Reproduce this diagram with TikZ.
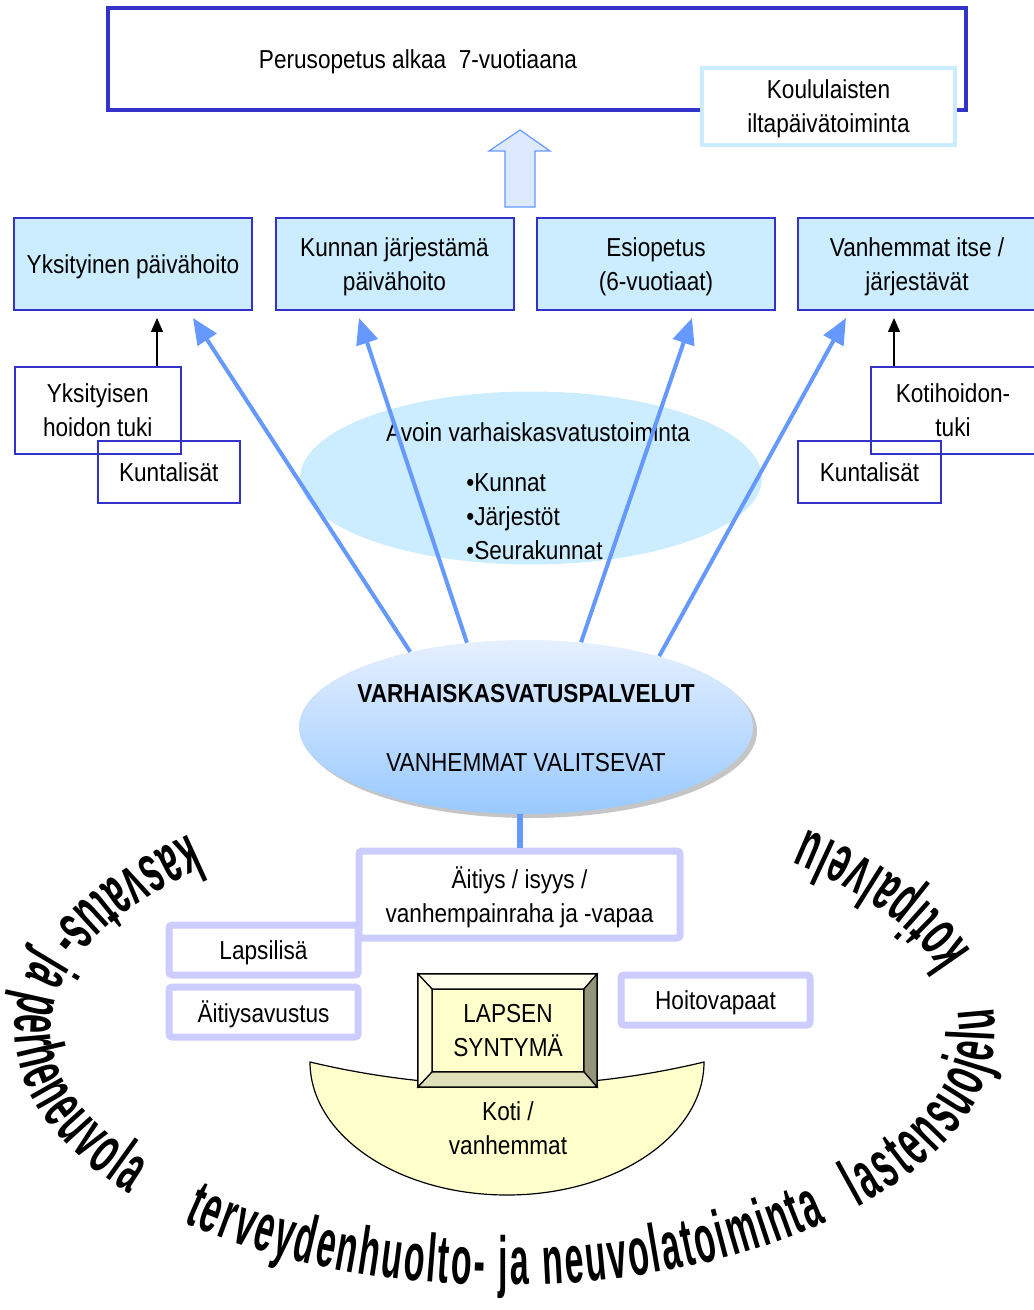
\documentclass[tikz,border=0pt]{standalone}
\usepackage{fontspec}
\setmainfont{Liberation Sans}[FakeStretch=0.87]
\newfontfamily\arcfont{Liberation Sans}[FakeStretch=0.5]
\usetikzlibrary{arrows.meta,calc,shapes.geometric,shadows,decorations.text}
\definecolor{boxblue}{HTML}{3333CC}
\definecolor{paleblue}{HTML}{CCECFF}
\definecolor{arrowblue}{HTML}{6699FF}
\definecolor{lilac}{HTML}{CCCCFF}
\definecolor{cream}{HTML}{FFFFCC}
\definecolor{vktop}{HTML}{E6F0FF}
\definecolor{vkbottom}{HTML}{99C9FF}
\newcommand{\arcstyle}{\arcfont\bfseries\fontsize{34}{34}\selectfont}
\tikzset{
  optionbox/.style={draw=boxblue, line width=1pt, fill=paleblue, minimum width=119pt, minimum height=46pt, align=center, inner sep=0pt, text depth=0pt},
  supportbox/.style={draw=boxblue, line width=1pt, align=center, inner sep=0pt, text depth=0pt},
  benefitbox/.style={draw=lilac, line width=3.5pt, fill=white, rounded corners=1.5pt, align=center, inner sep=0pt, text depth=0pt, minimum width=94.5pt, minimum height=25pt},
  bluearrow/.style={draw=arrowblue, line width=2pt, -{Triangle[length=13pt,width=11pt]}},
  blackarrow/.style={line width=0.6pt, -{Triangle[length=7pt,width=6pt]}},
  bevel/.style={draw, line width=0.6pt},
  arctext/.style={decorate, decoration={text along path, text align={fit to path}, text={|\arcstyle|#1}}}
}

\begin{document}
\begin{tikzpicture}[x=0.5pt,y=-0.5pt,font=\fontsize{13}{17}\selectfont]
\useasboundingbox (0,0) rectangle (1033,1310);
\node[draw=boxblue, line width=2pt, fill=white, minimum width=429pt, minimum height=51pt] (perus) at (537,59) {};
\node[inner sep=0pt] (perustxt) at (418,62) {Perusopetus alkaa \ 7-vuotiaana};
\node[draw=paleblue, line width=2pt, fill=white, minimum width=126.5pt, minimum height=38.5pt, align=center, inner sep=0pt, text depth=0pt] (iltap) at (828.5,106.5) {Koululaisten\\iltapäivätoiminta};
\draw[draw=arrowblue, fill=arrowblue!22, line width=0.6pt] (505,207) -- (505,151) -- (489,151) -- (520,130) -- (550,151) -- (535,151) -- (535,207) -- cycle;

\node[optionbox] (yks) at (133,264) {Yksityinen päivähoito};
\node[optionbox] (kunta) at (394.5,264) {Kunnan järjestämä\\päivähoito};
\node[optionbox] (esi) at (656,264) {Esiopetus\\(6-vuotiaat)};
\node[optionbox] (vanh) at (917,264) {Vanhemmat itse /\\järjestävät};

\node[supportbox, minimum width=83.25pt, minimum height=43.5pt] (ytuki) at (97.75,410.5) {Yksityisen\\hoidon tuki};
\node[supportbox, minimum width=71.25pt, minimum height=31pt] (klisavas) at (168.75,472) {Kuntalisät};
\node[supportbox, minimum width=82pt, minimum height=43.5pt] (ktuki) at (953,410.5) {Kotihoidon-\\tuki};
\node[supportbox, minimum width=71.5pt, minimum height=31pt] (klisaoik) at (869.5,472) {Kuntalisät};
\draw[blackarrow] ($(ytuki.north)+(59.25,0)$) -- ($(yks.south)+(24,7)$);
\draw[blackarrow] ($(ktuki.north)+(-59,0)$) -- ($(vanh.south)+(-23,7)$);

\node[ellipse, fill=paleblue, minimum width=231pt, minimum height=86.5pt, inner sep=0pt] (avoin) at (531,478) {};
\node[inner sep=0pt] (avointxt) at (538,432) {Avoin varhaiskasvatustoiminta};
\node[anchor=west, align=left, inner sep=0pt] (avoinlista) at (466,517) {•Kunnat\\•Järjestöt\\•Seurakunnat};

\node[ellipse, top color=vktop, bottom color=vkbottom, minimum width=227pt, minimum height=87pt, inner sep=0pt, drop shadow={shadow xshift=2pt, shadow yshift=-2pt, fill=black!45}] (vk) at (526,727) {};
\node[font=\fontsize{13}{17}\selectfont\bfseries, inner sep=0pt] (vkotsikko) at (526,694) {VARHAISKASVATUSPALVELUT};
\node[inner sep=0pt] (vkvalinta) at (526,763) {VANHEMMAT VALITSEVAT};

\draw[bluearrow] (vk.147) -- ($(yks.south)+(60,7)$);
\draw[bluearrow] (vk.125) -- ($(kunta.south)+(-35.5,7)$);
\draw[bluearrow] (vk.57) -- ($(esi.south)+(36,7)$);
\draw[bluearrow] (vk.28) -- ($(vanh.south)+(-71,7)$);

\node[benefitbox, minimum width=160.5pt, minimum height=43.5pt] (aitiys) at (519.5,894.5) {Äitiys / isyys /\\vanhempainraha ja -vapaa};
\draw[arrowblue, line width=3pt] (aitiys.north |- vk.south) -- (aitiys.north);
\node[benefitbox] (lapsilisa) at (263.5,950) {Lapsilisä};
\node[benefitbox] (avustus) at (263.5,1012) {Äitiysavustus};
\node[benefitbox] (hoitovap) at (715.5,1000) {Hoitovapaat};

\draw[fill=cream, line width=0.6pt] (310,1062) .. controls (440,1093) and (575,1093) .. (704,1062) arc[start angle=0, end angle=180, x radius=197, y radius=133] -- cycle;
\node[align=center, inner sep=0pt, text depth=0pt] (koti) at (508,1128) {Koti /\\vanhemmat};

\node[bevel, fill=cream, minimum width=89.5pt, minimum height=56.5pt, inner sep=0pt, outer sep=0pt] (syntyma) at (507.5,1030.5) {};
\node[bevel, fill=cream, minimum width=76pt, minimum height=41.5pt, align=center, inner sep=0pt, outer sep=0pt, text depth=0pt] (syntymatxt) at (508,1030.5) {LAPSEN\\SYNTYMÄ};
\draw[bevel, fill=cream!40] (syntyma.north west) -- (syntyma.north east) -- (syntymatxt.north east) -- (syntymatxt.north west) -- cycle;
\draw[bevel, fill=cream!60] (syntyma.north west) -- (syntymatxt.north west) -- (syntymatxt.south west) -- (syntyma.south west) -- cycle;
\draw[bevel, fill=black!40!cream!80!gray] (syntyma.north east) -- (syntyma.south east) -- (syntymatxt.south east) -- (syntymatxt.north east) -- cycle;
\draw[bevel, fill=cream!75!gray] (syntyma.south west) -- (syntymatxt.south west) -- (syntymatxt.south east) -- (syntyma.south east) -- cycle;

\path[arctext={kasvatus- ja perheneuvola}] (190,834.7) arc[start angle=-130, end angle=-220, x radius=490, y radius=255];
\path[arctext={terveydenhuolto- ja neuvolatoiminta}] (183.5,1222.4) arc[start angle=-229, end angle=-311, x radius=490, y radius=255];
\path[arctext={lastensuojelu}] (857.5,1207.1) arc[start angle=-316, end angle=-365, x radius=490, y radius=255];
\path[arctext={kotipalvelu}] (971,951.2) arc[start angle=-18, end angle=-52, x radius=490, y radius=255];
\end{tikzpicture}
\end{document}
